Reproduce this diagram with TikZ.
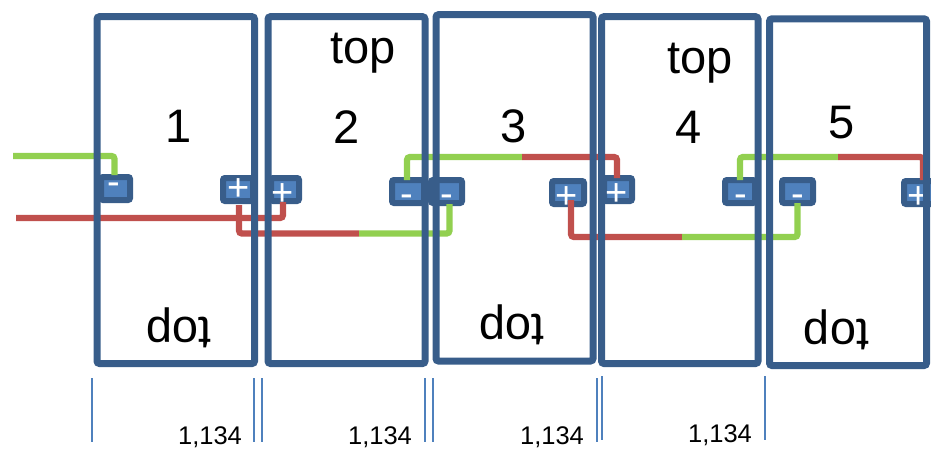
\documentclass[tikz,border=0pt]{standalone}
\usepackage{fontspec}
\setmainfont{Liberation Sans}
\definecolor{boxblue}{HTML}{385D8A}
\definecolor{fillblue}{HTML}{4F81BD}
\definecolor{wgreen}{HTML}{92D050}
\definecolor{wred}{HTML}{C0504D}
\newcommand{\bigsz}{\fontsize{47}{52}\selectfont}
\newcommand{\dimsz}{\fontsize{25.5}{28}\selectfont}
\newcommand{\signsz}{\fontsize{38}{40}\selectfont}
\newcommand{\panelbox}[5]{\node[panel,minimum width=#4-#2,minimum height=#5-#3] (#1) at ({(#2+#4)/2},{(#3+#5)/2}) {};}
\newcommand{\terminal}[7]{%
 \node[termbox,minimum width=#4-6,minimum height=23] (#1) at (#2,#3) {};
 \node[signtext] (#1s) at (#5,#6) {#7};}
\tikzset{
 x=1pt,y=-1pt,
 panel/.style={draw=boxblue,line width=7,rounded corners=2.5,inner sep=0,outer sep=0},
 termbox/.style={draw=boxblue,fill=fillblue,line width=6,rounded corners=2,inner sep=0,outer sep=0},
 signtext/.style={text=white,inner sep=0,anchor=base,font=\signsz},
 biglabel/.style={inner sep=0,anchor=base,font=\bigsz},
 toplabel/.style={inner sep=0,anchor=base,font=\bigsz,rotate=180},
 dimlabel/.style={inner sep=0,anchor=base,font=\dimsz},
 greenwire/.style={draw=wgreen,line width=6.3,rounded corners=3},
 redwire/.style={draw=wred,line width=6.3,rounded corners=3},
 tick/.style={draw=fillblue,line width=2.5},
}
\begin{document}
\begin{tikzpicture}
\useasboundingbox (0,0) rectangle (931,448);
\clip (0,0) rectangle (931,448);
% terminals
\terminal{m1}{115.5}{188.5}{35}{114}{194.6}{-}
\terminal{p1}{238}{189.5}{36}{239}{200}{+}
\terminal{p2}{285}{189.5}{34}{283}{205}{+}
\terminal{m2}{408}{191.5}{38}{407}{206.6}{-}
\terminal{m3}{446.5}{191.5}{37}{447}{206.6}{-}
\terminal{p3}{568}{192.5}{38}{567}{208}{+}
\terminal{p4}{618}{189.5}{34}{617}{205}{+}
\terminal{m4}{740}{191.5}{36}{741}{206.6}{-}
\terminal{m5}{797.5}{191.5}{37}{798}{206.6}{-}
\terminal{p5}{919}{192.5}{36}{919}{208}{+}
% free ends and colour changes
\coordinate (g1) at (13,156);
\coordinate (r1) at (16,218);
\coordinate (s1) at (359,233.5);
\coordinate (s2) at (522,157);
\coordinate (s3) at (682,237);
\coordinate (s4) at (838,157);
% wires
\draw[greenwire] (g1) -| ([xshift=-1,yshift=2]m1.north);
\draw[redwire] (r1) -| ([xshift=-2,yshift=-1]p2.south);
\draw[redwire] (s1) -| ([xshift=1,yshift=-4]p1.south);
\draw[greenwire] (s1) -| ([xshift=3,yshift=-1]m3.south);
\draw[greenwire] (s2) -| ([xshift=-1]m2.north);
\draw[redwire] (s2) -| ([xshift=-1]p4.north);
\draw[redwire] (s3) -| ([xshift=3,yshift=4]p3.south);
\draw[greenwire] (s3) -| (m5.south);
\draw[greenwire] (s4) -| (m4.north);
\draw[redwire] (s4) -| ([xshift=4,yshift=1]p5.north);
% panels
\panelbox{b1}{97}{16.7}{254.5}{363.5}
\panelbox{b2}{268}{16.7}{425}{363.5}
\panelbox{b3}{436}{14.7}{593}{361}
\panelbox{b4}{601.5}{16.7}{758}{363.5}
\panelbox{b5}{769.5}{18.8}{926.5}{365.5}
% labels
\node[biglabel] (n1) at (178.5,142) {1};
\node[biglabel] (n2) at (346.5,143) {2};
\node[biglabel] (n3) at (514,142) {3};
\node[biglabel] (n4) at (689,143) {4};
\node[biglabel] (n5) at (842,138) {5};
\node[biglabel] (t2) at (363,63.5) {top};
\node[biglabel] (t4) at (700,73.5) {top};
\node[toplabel] (d1) at (179,317) {top};
\node[toplabel] (d3) at (512,314) {top};
\node[toplabel] (d5) at (836.5,319) {top};
% dimension ticks
\draw[tick] (92,378) -- (92,441.5);
\draw[tick] (254,378) -- (254,441.5);
\draw[tick] (262,378) -- (262,441.5);
\draw[tick] (425,378) -- (425,441.5);
\draw[tick] (433,378) -- (433,441.5);
\draw[tick] (597,378) -- (597,441.5);
\draw[tick] (602,376) -- (602,440);
\draw[tick] (765,376) -- (765,440);
\node[dimlabel] (w1) at (210,444) {1,134};
\node[dimlabel] (w2) at (380,444) {1,134};
\node[dimlabel] (w3) at (552,444) {1,134};
\node[dimlabel] (w4) at (720,442.5) {1,134};
\end{tikzpicture}
\end{document}
